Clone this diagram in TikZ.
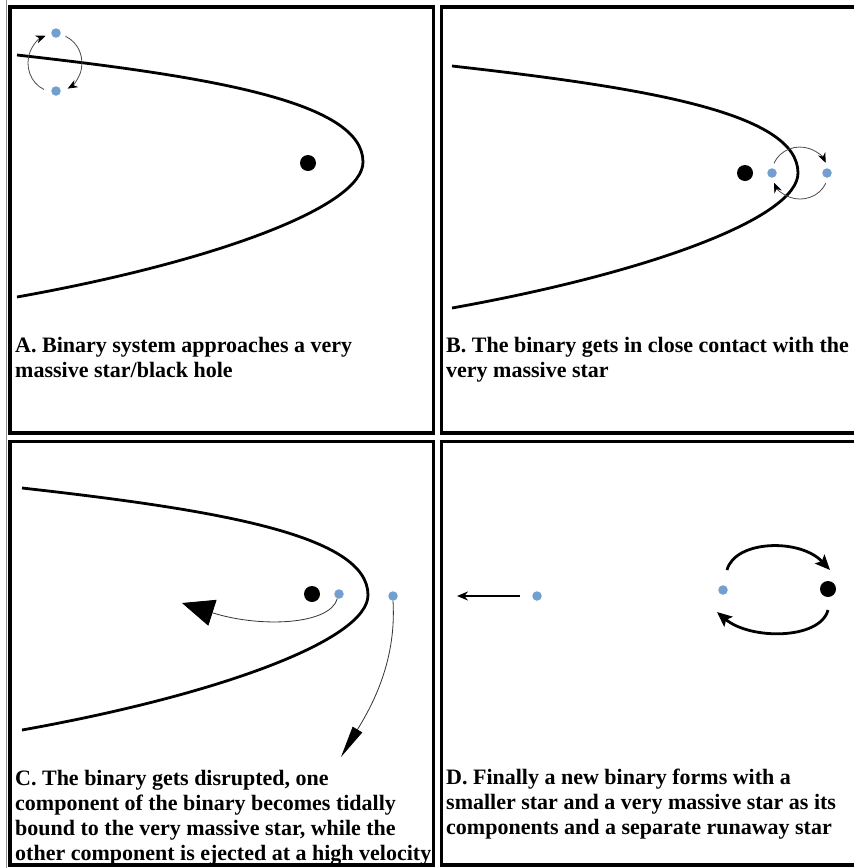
\documentclass[tikz,border=0pt]{standalone}
\usepackage{fontspec}
\setmainfont{Liberation Serif}
\usetikzlibrary{arrows.meta}
\definecolor{starblue}{HTML}{729FCF}
\begin{document}
\begin{tikzpicture}[x=1pt,y=-1pt,
  panel/.style={draw=black, line width=3.2pt},
  trajline/.style={line width=2.8pt, black},
  bh/.style={circle, fill=black, inner sep=0pt, minimum size=16pt},
  starb/.style={circle, fill=starblue, inner sep=0pt, minimum size=9.5pt},
  orbit/.style={draw=black!70, line width=0.8pt, -{Stealth[length=10pt,width=8pt,color=black]}},
  kick/.style={draw=black!80, line width=0.8pt},
  bigorbit/.style={draw=black, line width=2.8pt, -{Stealth[length=15pt,width=13pt,inset=3pt]}},
  runaway/.style={draw=black, line width=2pt, -{Stealth[length=11pt,width=9pt]}},
  caption/.style={anchor=north west, inner sep=0pt, align=left, font=\fontsize{22}{25}\selectfont\bfseries},
  traj/.pic={\draw[trajline] (-346,-107) .. controls (-150,-85) and (0,-60) .. (0,0) .. controls (0,45) and (-150,100) .. (-346,135);}
]
\useasboundingbox (0,0) rectangle (854,868);
\clip (0,0) rectangle (854,868);
\fill[white] (0,0) rectangle (854,868);
\draw[black!45, line width=0.8pt] (6,0) -- (6,868);

% panels
\draw[panel] (10,7) rectangle (433.5,433);
\draw[panel] (441.5,7) rectangle (870,433);
\draw[panel] (10,441.5) rectangle (433.5,865);
\draw[panel] (441.5,441.5) rectangle (870,865);

% ---------- Panel A ----------
\pic at (363,162) {traj};
\node[bh] (aBH) at (308,163) {};
\node[starb] (a1) at (56,33) {};
\node[starb] (a2) at (56,91) {};
\draw[orbit] ([shift={(-12,-1.5)}]a2.center) arc[start angle=114, end angle=250, x radius=27, y radius=29];
\draw[orbit] ([shift={(9.5,3.3)}]a1.center) arc[start angle=-67, end angle=62, x radius=27, y radius=29];
\node[caption] (capA) at (15,337) {A. Binary system approaches a very\\massive star/black hole};

% ---------- Panel B ----------
\pic at (798,173) {traj};
\node[bh] (bBH) at (745,173) {};
\node[starb] (b2) at (772,173) {};
\node[starb] (b3) at (827,173) {};
\draw[orbit] ([shift={(2,-9.7)}]b2.center) arc[start angle=202, end angle=337, x radius=28, y radius=26];
\draw[orbit] ([shift={(-1.2,10.2)}]b3.center) arc[start angle=23, end angle=158, x radius=28, y radius=26];
\node[caption] (capB) at (446,337) {B. The binary gets in close contact with the\\very massive star};

% ---------- Panel C ----------
\pic at (368,595) {traj};
\node[bh] (cBH) at (312,594) {};
\node[starb] (c2) at (339,594) {};
\node[starb] (c3) at (393,596) {};
\coordinate (c2tip) at (182,603);
\coordinate (c3tip) at (341,757);
\draw[kick, -{Triangle[length=32pt,width=27pt,color=black]}] (c2.250) .. controls (330,625) and (260,628) .. (c2tip);
\draw[kick, -{Triangle[length=32pt,width=11pt,color=black]}] (c3.south) .. controls (397,665) and (368,712) .. (c3tip);
\node[caption] (capC) at (15,770) {C. The binary gets disrupted, one\\component of the binary becomes tidally\\bound to the very massive star, while the\\other component is ejected at a high velocity};

% ---------- Panel D ----------
\node[starb] (d1) at (537,596) {};
\coordinate (dtip) at (457,596);
\draw[runaway] ([xshift=-17pt]d1.center) -- (dtip);
\node[starb] (d2) at (723,590) {};
\node[bh] (d3) at (828,589) {};
\draw[bigorbit] ([shift={(4,-20)}]d2.center) .. controls (735,540) and (800,538) .. ([shift={(2,-19)}]d3.center);
\draw[bigorbit] ([shift={(0,21)}]d3.center) .. controls (820,640) and (750,640) .. ([shift={(-6,22)}]d2.center);
\node[caption] (capD) at (446,769) {D. Finally a new binary forms with a\\smaller star and a very massive star as its\\components and a separate runaway star};
\end{tikzpicture}
\end{document}
